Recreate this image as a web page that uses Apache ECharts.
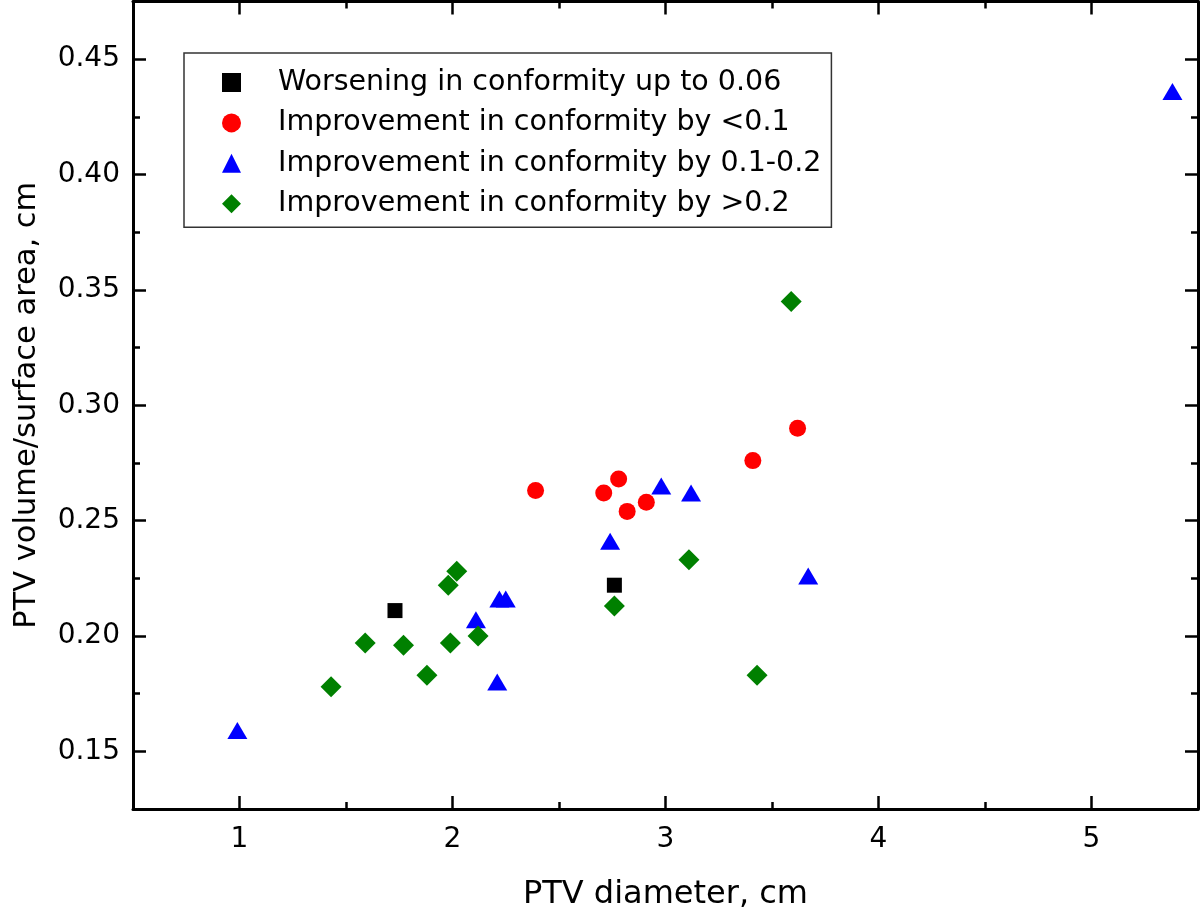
<!DOCTYPE html>
<html>
<head>
<meta charset="utf-8">
<script src="https://cdn.jsdelivr.net/npm/echarts@6/dist/echarts.min.js"></script>
<style>
html,body{margin:0;padding:0;background:#fff;}
#chart{width:1200px;height:917px;}
</style>
</head>
<body>
<div id="chart"></div>
<script>
// ---- data ----
const seriesNames = [
  'Worsening in conformity up to 0.06',
  'Improvement in conformity by <0.1',
  'Improvement in conformity by 0.1-0.2',
  'Improvement in conformity by >0.2'
];
const worsenX = [1.73, 2.76];
const worsenY = [0.211, 0.222];
const lowX = [2.39, 2.71, 2.78, 2.82, 2.91, 3.41, 3.62];
const lowY = [0.263, 0.262, 0.268, 0.254, 0.258, 0.276, 0.290];
const midX = [0.99, 2.11, 2.21, 2.22, 2.25, 2.74, 2.98, 3.12, 3.67, 5.38];
const midY = [0.159, 0.207, 0.180, 0.216, 0.216, 0.241, 0.265, 0.262, 0.226, 0.436];
const highX = [1.43, 1.59, 1.77, 1.88, 1.98, 1.99, 2.02, 2.12, 2.76, 3.11, 3.43, 3.59];
const highY = [0.178, 0.197, 0.196, 0.183, 0.222, 0.197, 0.228, 0.200, 0.213, 0.233, 0.183, 0.345];

const xMajorTicks = [1, 2, 3, 4, 5];
const xMinorTicks = [1.5, 2.5, 3.5, 4.5];
const yMajorTicks = [0.15, 0.20, 0.25, 0.30, 0.35, 0.40, 0.45];
const yMinorTicks = [0.175, 0.225, 0.275, 0.325, 0.375, 0.425];

const xTitle = 'PTV diameter, cm';
const yTitle = 'PTV volume/surface area, cm';

// ---- build ----
const zip = (xs, ys) => xs.map((x, i) => [x, ys[i]]);
const FONT = 'DejaVu Sans';
const X_MIN = 0.5, X_MAX = 5.5, Y_MIN = 0.125, Y_MAX = 0.475;

function xAx(pos, ticks, len, showLine, labels, extra) {
  return Object.assign({
    type: 'value', position: pos, min: X_MIN, max: X_MAX,
    axisLine: { show: showLine, onZero: false, lineStyle: { color: '#000', width: 3 } },
    axisTick: { show: true, inside: true, length: len, customValues: ticks, lineStyle: { color: '#000', width: 2.5 } },
    axisLabel: labels ? { show: true, customValues: ticks, fontFamily: FONT, fontSize: 28, color: '#000', margin: 17, formatter: v => String(v) } : { show: false },
    splitLine: { show: false }
  }, extra || {});
}
function yAx(pos, ticks, len, showLine, labels, extra) {
  return Object.assign({
    type: 'value', position: pos, min: Y_MIN, max: Y_MAX,
    axisLine: { show: showLine, onZero: false, lineStyle: { color: '#000', width: 3 } },
    axisTick: { show: true, inside: true, length: len, customValues: ticks, lineStyle: { color: '#000', width: 2.5 } },
    axisLabel: labels ? { show: true, customValues: ticks, fontFamily: FONT, fontSize: 28, color: '#000', margin: 13, formatter: v => v.toFixed(2) } : { show: false },
    splitLine: { show: false }
  }, extra || {});
}

const chart = echarts.init(document.getElementById('chart'));
chart.setOption({
  animation: false,
  backgroundColor: '#fff',
  grid: { left: 133, right: 2, top: 1.5, bottom: 108, containLabel: false },
  xAxis: [
    xAx('bottom', xMajorTicks, 13, true, true, {
      name: xTitle, nameLocation: 'middle', nameGap: 70,
      nameTextStyle: { fontFamily: FONT, fontSize: 32, color: '#000' }
    }),
    xAx('bottom', xMinorTicks, 7, false, false),
    xAx('top', xMajorTicks, 13, true, false),
    xAx('top', xMinorTicks, 7, false, false)
  ],
  yAxis: [
    yAx('left', yMajorTicks, 13, true, true, {
      name: yTitle, nameLocation: 'middle', nameGap: 90,
      nameTextStyle: { fontFamily: FONT, fontSize: 30.5, color: '#000' }
    }),
    yAx('left', yMinorTicks, 7, false, false),
    yAx('right', yMajorTicks, 13, true, false),
    yAx('right', yMinorTicks, 7, false, false)
  ],
  legend: {
    orient: 'vertical', left: 184, top: 53,
    padding: [15, 10, 9, 38],
    itemWidth: 19, itemHeight: 19, itemGap: 11.4,
    borderColor: '#333', borderWidth: 1.5, backgroundColor: '#fff',
    textStyle: { fontFamily: FONT, fontSize: 28.5, color: '#000', lineHeight: 28, padding: [0, 0, 0, 32] },
    data: seriesNames
  },
  series: [
    { name: seriesNames[0], type: 'scatter', symbol: 'rect', symbolSize: [15, 15],
      itemStyle: { color: '#000000', opacity: 1 }, data: zip(worsenX, worsenY) },
    { name: seriesNames[1], type: 'scatter', symbol: 'circle', symbolSize: 17,
      itemStyle: { color: '#ff0000', opacity: 1 }, data: zip(lowX, lowY) },
    { name: seriesNames[2], type: 'scatter', symbol: 'triangle', symbolSize: [20, 17],
      itemStyle: { color: '#0000ff', opacity: 1 }, data: zip(midX, midY) },
    { name: seriesNames[3], type: 'scatter', symbol: 'diamond', symbolSize: [21, 21],
      itemStyle: { color: '#008000', opacity: 1 }, data: zip(highX, highY) }
  ]
});
</script>
</body>
</html>
